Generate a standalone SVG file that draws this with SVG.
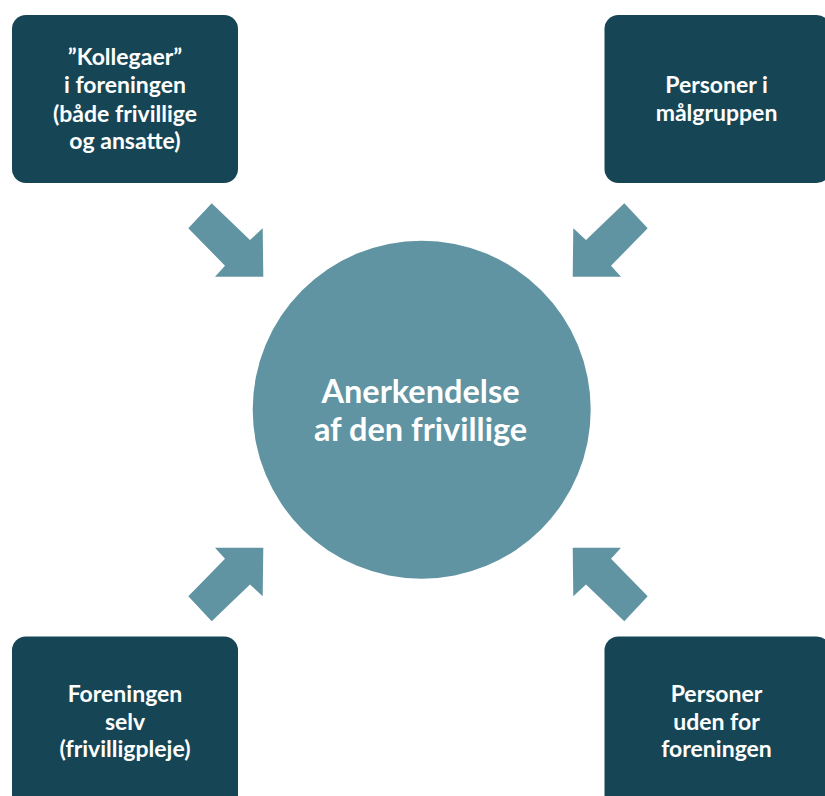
<svg xmlns="http://www.w3.org/2000/svg" width="825" height="796" viewBox="0 0 825 796">
<style>
.box{fill:#164655;}
.lbl{font-family:Lato,"Liberation Sans",sans-serif;font-weight:bold;font-size:23px;fill:#ffffff;text-anchor:middle;}
.big{font-family:Lato,"Liberation Sans",sans-serif;font-weight:bold;font-size:32.5px;fill:#ffffff;text-anchor:middle;}
.arr{fill:#6094A2;}
</style>
<defs>
<polygon id="arrowTL" points="211.7,203.3 250,240 262.7,228.3 263.3,276.7 215,276.7 225,265.7 188.3,228.3"/>
</defs>
<rect width="825" height="796" fill="#ffffff"/>
<g id="connectors" class="arr">
<use href="#arrowTL"/>
<use href="#arrowTL" transform="translate(836,0) scale(-1,1)"/>
<use href="#arrowTL" transform="translate(0,824.5) scale(1,-1)"/>
<use href="#arrowTL" transform="translate(836,824.5) scale(-1,-1)"/>
</g>
<g id="center">
<circle cx="421.7" cy="409.7" r="169" fill="#6094A2"/>
<text class="big" x="420.5" y="403">Anerkendelse</text>
<text class="big" x="420.5" y="441">af den frivillige</text>
</g>
<g id="kollegaer">
<rect class="box" x="12" y="15" width="226" height="168" rx="14"/>
<text class="lbl" x="125" y="65">”Kollegaer”</text>
<text class="lbl" x="125" y="93.3">i foreningen</text>
<text class="lbl" x="125" y="121.5">(både frivillige</text>
<text class="lbl" x="125" y="148.5">og ansatte)</text>
</g>
<g id="maalgruppen">
<rect class="box" x="604.5" y="15" width="226" height="168" rx="14"/>
<text class="lbl" x="716.5" y="93.3">Personer i</text>
<text class="lbl" x="716.5" y="120.5">målgruppen</text>
</g>
<g id="foreningen-selv">
<rect class="box" x="12" y="636.5" width="226" height="175" rx="14"/>
<text class="lbl" x="125" y="701.7">Foreningen</text>
<text class="lbl" x="125" y="729.5">selv</text>
<text class="lbl" x="125" y="756.7">(frivilligpleje)</text>
</g>
<g id="uden-for">
<rect class="box" x="604.5" y="636.5" width="226" height="175" rx="14"/>
<text class="lbl" x="716.5" y="701.7">Personer</text>
<text class="lbl" x="716.5" y="729.5">uden for</text>
<text class="lbl" x="716.5" y="756.7">foreningen</text>
</g>
</svg>
